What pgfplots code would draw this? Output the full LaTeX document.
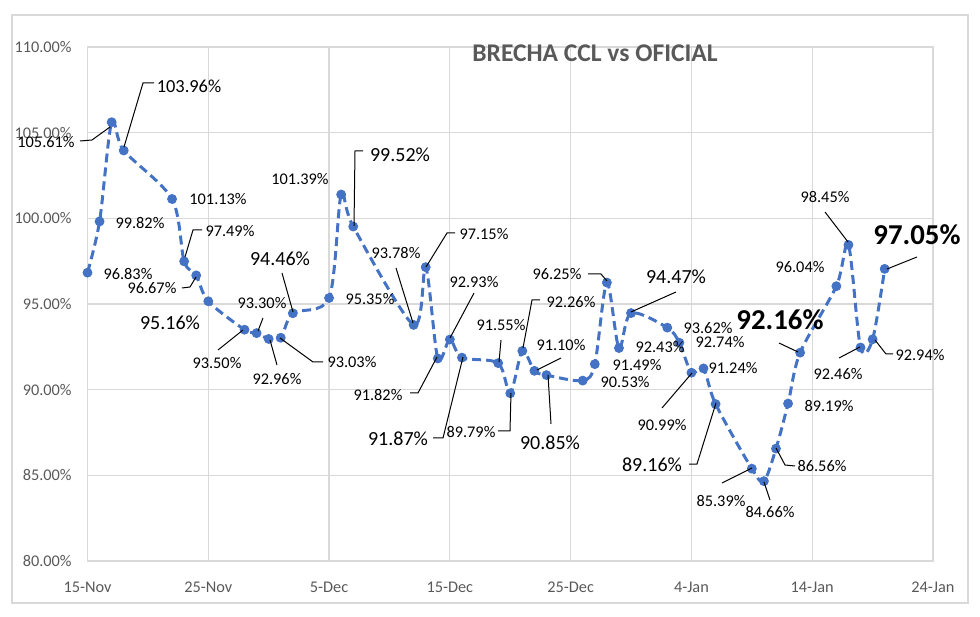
\documentclass[border=0pt]{standalone}
\usepackage{pgfplots}
\pgfplotsset{compat=1.18}
\usepackage{fontspec}
\setmainfont{Carlito}
\definecolor{xlblue}{HTML}{4472C4}
\definecolor{labgray}{HTML}{595959}
\definecolor{gridgray}{HTML}{D9D9D9}
\newcommand\fs{\fontsize{8.15}{9}\selectfont}
\newcommand\fm{\fontsize{10}{12}\selectfont}
\newcommand\fl{\fontsize{9.2}{11}\selectfont}
\newcommand\fb{\bfseries\fontsize{14.4}{17}\selectfont}
\tikzset{px/.style={x=0.5pt,y=-0.5pt,shift={(-43.75pt,280.5pt)}},
  lbl/.style={inner sep=0pt, text=black},
  ld/.style={draw=black, line width=0.5pt}}
\begin{document}
\begin{tikzpicture}
\begin{scope}[px]
\useasboundingbox (0,0) rectangle (980,616);
\draw[gridgray, line width=0.75pt] (12,15) rectangle (968,603);
\end{scope}
\begin{axis}[
  at={(0,0)}, anchor=south west,
  scale only axis, width=422.75pt, height=257pt,
  xmin=0, xmax=70, ymin=80, ymax=110,
  xtick={0,10,...,70},
  xticklabels={15-Nov,25-Nov,5-Dec,15-Dec,25-Dec,4-Jan,14-Jan,24-Jan},
  ytick={80,85,...,110},
  yticklabel={\pgfmathprintnumber[fixed,fixed zerofill,precision=2]{\tick}\%},
  /pgf/number format/assume math mode=true,
  grid=major,
  major grid style={draw=gridgray, line width=0.6pt},
  axis line style={draw=gridgray, line width=0.6pt},
  major tick length=0pt,
  tick label style={font=\fs, text=labgray},
  xticklabel style={anchor=center, inner sep=0pt, yshift=-13pt},
  yticklabel style={anchor=east, inner sep=0pt, xshift=-7.75pt},
  clip=false,
]
\addplot[color=xlblue, line width=1.5pt, dash pattern=on 4.5pt off 2.5pt,
  smooth, tension=0.5, mark=*, mark size=2.2pt,
  mark options={solid, fill=xlblue, draw=xlblue, line width=0.5pt}]
table {
x y
0 96.83
1 99.82
2 105.61
3 103.96
7 101.13
8 97.49
9 96.67
10 95.16
13 93.50
14 93.30
15 92.96
16 93.03
17 94.46
20 95.35
21 101.39
22 99.52
27 93.78
28 97.15
29 91.82
30 92.93
31 91.87
34 91.55
35 89.79
36 92.26
37 91.10
38 90.85
41 90.53
42 91.49
43 96.25
44 92.43
45 94.47
48 93.62
49 92.74
50 90.99
51 91.24
52 89.16
55 85.39
56 84.66
57 86.56
58 89.19
59 92.16
62 96.04
63 98.45
64 92.46
65 92.94
66 97.05
};
\end{axis}
\begin{scope}[px]
\node[font=\bfseries\fontsize{12.75}{15}\selectfont, text=labgray, inner sep=0pt] at (595,53) {BRECHA CCL vs OFICIAL};
% labels
\node[lbl,font=\fs] at (128,274) {96.83\%};
\node[lbl,font=\fs] at (140,223) {99.82\%};
\node[lbl,font=\fs] at (46,142) {105.61\%};
\draw[ld] (80,141) -- (92,140) -- (110,127);
\node[lbl,font=\fl] at (189,86) {103.96\%};
\draw[ld] (154,83) -- (143,83) -- (124,147);
\node[lbl,font=\fs] at (218,199) {101.13\%};
\node[lbl,font=\fs] at (230,231) {97.49\%};
\draw[ld] (202,230) -- (193,230) -- (185,257);
\node[lbl,font=\fs] at (152,288) {96.67\%};
\draw[ld] (182,288) -- (190,287) -- (196,277);
\node[lbl,font=\fm] at (170,323) {95.16\%};
\node[lbl,font=\fs] at (217,363) {93.50\%};
\draw[ld] (218,350) -- (243,330);
\node[lbl,font=\fs] at (262,303) {93.30\%};
\draw[ld] (263,318) -- (258,331);
\node[lbl,font=\fs] at (277,379) {92.96\%};
\draw[ld] (277,365) -- (270,340);
\node[lbl,font=\fs] at (352,362) {93.03\%};
\draw[ld] (323,362) -- (313,362) -- (280,338);
\node[lbl,font=\fm] at (280,259) {94.46\%};
\draw[ld] (282,273) -- (293,312);
\node[lbl,font=\fs] at (370,299) {95.35\%};
\node[lbl,font=\fs] at (300,179) {101.39\%};
\node[lbl,font=\fm] at (400,155) {99.52\%};
\draw[ld] (363,151) -- (355,151) -- (354,226);
\node[lbl,font=\fs] at (396,253) {93.78\%};
\draw[ld] (396,268) -- (413,323);
\node[lbl,font=\fs] at (484,234) {97.15\%};
\draw[ld] (455,233) -- (447,233) -- (426,267);
\node[lbl,font=\fs] at (378,395) {91.82\%};
\draw[ld] (410,393) -- (418,393) -- (437,357);
\node[lbl,font=\fs] at (474,282) {92.93\%};
\draw[ld] (474,293) -- (450,338);
\node[lbl,font=\fm] at (398,439) {91.87\%};
\draw[ld] (433,438) -- (443,438) -- (463,357);
\node[lbl,font=\fs] at (501,325) {91.55\%};
\draw[ld] (501,340) -- (499,362);
\node[lbl,font=\fs] at (471,432) {89.79\%};
\draw[ld] (498,431) -- (510,431) -- (511,393);
\node[lbl,font=\fs] at (571,302) {92.26\%};
\draw[ld] (540,300) -- (532,300) -- (523,348);
\node[lbl,font=\fs] at (561,345) {91.10\%};
\draw[ld] (561,358) -- (537,370);
\node[lbl,font=\fm] at (550,443) {90.85\%};
\draw[ld] (551,424) -- (548,375);
\node[lbl,font=\fs] at (625,382) {90.53\%};
\node[lbl,font=\fs] at (637,365) {91.49\%};
\node[lbl,font=\fs] at (557,274) {96.25\%};
\draw[ld] (588,274) -- (601,274) -- (607,281);
\node[lbl,font=\fs] at (660,347) {92.43\%};
\node[lbl,font=\fm] at (676,277) {94.47\%};
\draw[ld] (676,292) -- (631,312);
\node[lbl,font=\fs] at (708,328) {93.62\%};
\node[lbl,font=\fs] at (720,342) {92.74\%};
\node[lbl,font=\fs] at (662,425) {90.99\%};
\draw[ld] (662,408) -- (692,373);
\node[lbl,font=\fs] at (733,368) {91.24\%};
\node[lbl,font=\fm] at (652,465) {89.16\%};
\draw[ld] (689,464) -- (697,464) -- (716,403);
\node[lbl,font=\fs] at (721,501) {85.39\%};
\draw[ld] (722,483) -- (752,468);
\node[lbl,font=\fs] at (770,512) {84.66\%};
\draw[ld] (770,500) -- (764,482);
\node[lbl,font=\fs] at (822,466) {86.56\%};
\draw[ld] (795,466) -- (785,465) -- (776,448);
\node[lbl,font=\fs] at (829,406) {89.19\%};
\node[lbl,font=\fb] at (780,320) {92.16\%};
\draw[ld] (779,343) -- (798,352);
\node[lbl,font=\fs] at (800,267) {96.04\%};
\node[lbl,font=\fs] at (825,197) {98.45\%};
\draw[ld] (825,212) -- (848,242);
\node[lbl,font=\fs] at (838,374) {92.46\%};
\draw[ld] (839,358) -- (860,347);
\node[lbl,font=\fs] at (920,355) {92.94\%};
\draw[ld] (893,354) -- (886,354) -- (875,340);
\node[lbl,font=\fb] at (917,235) {97.05\%};
\draw[ld] (917,257) -- (887,269);
\end{scope}
\end{tikzpicture}
\end{document}
